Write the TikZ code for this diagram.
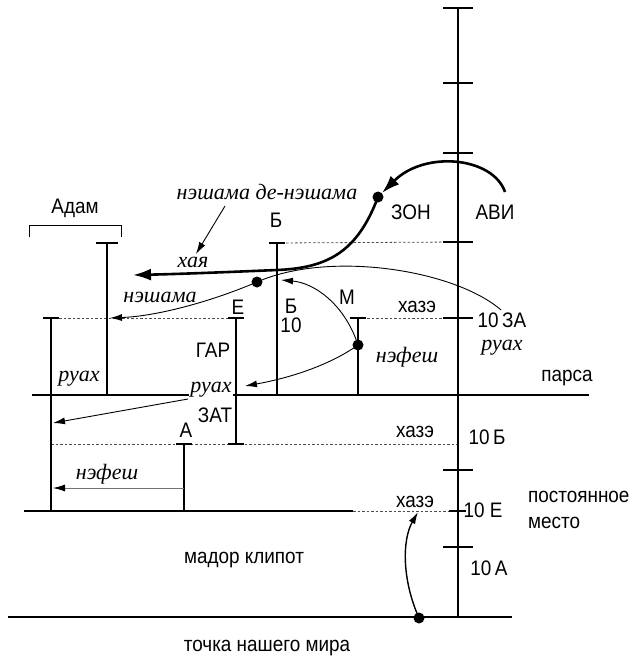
\documentclass[tikz,border=0pt]{standalone}
\usepackage{fontspec}
\setmainfont{Liberation Serif}
\newfontfamily\sansf[FakeStretch=0.9]{Liberation Sans}
\usetikzlibrary{arrows.meta}
\begin{document}
\begin{tikzpicture}[x=1pt,y=-1pt,
  bar/.style={line width=2.8pt},
  thinl/.style={line width=0.9pt},
  dashln/.style={line width=0.8pt, dash pattern=on 2.5pt off 2pt, black!70},
  lab/.style={font=\sansf\fontsize{21}{21}\selectfont, inner sep=0pt},
  ital/.style={font=\itshape\fontsize{22}{22}\selectfont, inner sep=0pt},
  dotn/.style={circle, fill, inner sep=0pt, minimum size=11pt},
  bigtip/.style={-{Latex[length=18pt,width=12pt]}},
  smtip/.style={-{Latex[length=12pt,width=7pt]}}]
\useasboundingbox (0,0) rectangle (631,661);

% ---------- coordinates ----------
\coordinate (axT) at (458,8);
\coordinate (axB) at (458,617);
\coordinate (parsaL) at (32,395);
\coordinate (parsaR) at (589,395);
\coordinate (lowL) at (24,511);
\coordinate (lowM) at (353,511);
\coordinate (lowR) at (458,511);
\coordinate (botL) at (8,617);
\coordinate (botR) at (512,617);

\coordinate (v1T) at (51,318);   \coordinate (v1B) at (51,511);
\coordinate (adT) at (107,243);  \coordinate (adB) at (107,395);
\coordinate (eT) at (236,318);   \coordinate (eB) at (236,444);
\coordinate (aT) at (184,444);   \coordinate (aB) at (184,511);
\coordinate (bT) at (277,243);   \coordinate (bB) at (277,395);
\coordinate (mT) at (358,318);   \coordinate (mB) at (358,395);

% ---------- dashed lines ----------
\draw[dashln] (59,318) -- (eT);
\draw[dashln] (mT) -- (458,318);
\draw[dashln] (bT) -- (458,242);
\draw[dashln] (51,444) -- (458,444);
\draw[dashln] (lowM) -- (lowR);

% ---------- Adam bracket ----------
\draw[thinl] (29,237) -- (29,225) -- (121,225) -- (121,237);

% ---------- axis ----------
\draw[bar] (axT) -- (axB);
\foreach \yy in {8,83,153,242,318,470,547}
  \draw[bar] (443,\yy) -- (473,\yy);
\draw[bar] (449,511) -- (466,511);

% ---------- horizontal lines ----------
\draw[bar] (parsaL) -- (parsaR);
\draw[bar] (lowL) -- (lowM);
\draw[bar] (botL) -- (botR);

% ---------- verticals with ticks ----------
\draw[bar] (v1T) -- (v1B);
\draw[bar] ([xshift=-8pt]v1T) -- ([xshift=8pt]v1T);
\draw[bar] ([xshift=-8pt]v1B) -- ([xshift=8pt]v1B);
\draw[bar] (adT) -- (adB);
\draw[bar] ([xshift=-11pt]adT) -- ([xshift=11pt]adT);
\draw[bar] ([xshift=-8pt]adB) -- ([xshift=8pt]adB);
\draw[bar] (eT) -- (eB);
\draw[bar] ([xshift=-8pt]eT) -- ([xshift=8pt]eT);
\draw[bar] ([xshift=-8pt]eB) -- ([xshift=8pt]eB);
\draw[bar] (aT) -- (aB);
\draw[bar] ([xshift=-8pt]aT) -- ([xshift=8pt]aT);
\draw[bar] ([xshift=-8pt]aB) -- ([xshift=8pt]aB);
\draw[bar] (bT) -- (bB);
\draw[bar] ([xshift=-8pt]bT) -- ([xshift=8pt]bT);
\draw[bar] ([xshift=-8pt]bB) -- ([xshift=8pt]bB);
\draw[bar] (mT) -- (mB);
\draw[bar] ([xshift=-8pt]mT) -- ([xshift=8pt]mT);
\draw[bar] ([xshift=-8pt]mB) -- ([xshift=8pt]mB);

% ---------- dots ----------
\node[dotn] (dot1) at (378,197) {};
\node[dotn] (dot2) at (257,282) {};
\node[dotn] (dot3) at (358,345) {};
\node[dotn] (dot4) at (419,618) {};

% ---------- arrow end points ----------
\coordinate (aviS) at (505,192);
\coordinate (xayaTip) at (133,275);
\coordinate (ruahS) at (501,310);
\coordinate (neshTip) at (110,318);
\coordinate (mUpTip) at (281,280);
\coordinate (mDnTip) at (245,386);
\coordinate (ruahMidS) at (188,399);
\coordinate (ruahTip) at (53,423);
\coordinate (nefS) at (184,488);
\coordinate (nefTip) at (53,488);
\coordinate (ndnS) at (225,206);
\coordinate (ndnTip) at (196,254);
\coordinate (hazeTip) at (418,512);

% ---------- thin curves ----------
\draw[thinl] (ruahS) .. controls (455,270) and (330,250) .. (dot2.center);
\draw[thinl, smtip] (dot2.center) .. controls (215,300) and (160,316) .. (neshTip);
\draw[thinl, smtip] (dot3.center) .. controls (345,305) and (315,283) .. (mUpTip);
\draw[thinl, smtip] (dot3.center) .. controls (330,365) and (290,378) .. (mDnTip);
\draw[thinl, smtip] (ruahMidS) -- (ruahTip);
\draw[thinl, black!55, -{Latex[length=12pt,width=7pt,color=black]}] (nefS) -- (nefTip);
\draw[thinl, smtip] (ndnS) -- (ndnTip);
\draw[line width=1.4pt, smtip] (dot4.center) .. controls (402,580) and (402,540) .. (hazeTip);

% ---------- thick curves ----------
\draw[line width=2.6pt, bigtip] (aviS) .. controls (493,157) and (425,150) .. (dot1);
\draw[line width=2.6pt, bigtip] (dot1.center) .. controls (358,250) and (330,268) .. (277,270)
   .. controls (230,272) and (180,274) .. (xayaTip);

% ---------- labels ----------
\node[lab] (tAdam) at (75,208) {Адам};
\node[ital] (tNdn) at (267,192) {нэшама де-нэшама};
\node[ital] (tXaya) at (193,262) {хая};
\node[lab] (tB) at (276,220) {Б};
\node[lab] (tZon) at (411,212) {ЗОН};
\node[lab] (tAvi) at (495,212) {АВИ};
\node[ital] (tNesh) at (160,297) {нэшама};
\node[lab] (tE) at (238,307) {Е};
\node[lab, align=center, font=\sansf\fontsize{21}{19}\selectfont] (tB10) at (291,316) {Б\\10};
\node[lab] (tM) at (347,297) {М};
\node[lab] (tHaze1) at (417,307) {хазэ};
\node[inner sep=0pt, align=center, font=\fontsize{21}{23}\selectfont] (t10za) at (502,334)
   {{\sansf 10\,ЗА}\\{\itshape\fontsize{22}{22}\selectfont руах}};
\node[ital] (tNefM) at (407,357) {нэфеш};
\node[lab] (tGar) at (213,350) {ГАР};
\node[ital] (tRuahL) at (79,379) {руах};
\node[ital, fill=white, inner sep=1pt] (tRuahM) at (211,390) {руах};
\node[lab] (tParsa) at (567,378) {парса};
\node[lab] (tZat) at (215,415) {ЗАТ};
\node[lab] (tA) at (186,430) {А};
\node[lab] (tHaze2) at (415,432) {хазэ};
\node[lab] (t10b) at (487,437) {10\,Б};
\node[ital] (tNefL) at (107,474) {нэфеш};
\node[lab] (tHaze3) at (415,502) {хазэ};
\node[lab] (t10e) at (483,510) {10 Е};
\node[lab, anchor=west] (tPost) at (528,497) {постоянное};
\node[lab, anchor=west] (tMesto) at (528,523) {место};
\node[lab] (tMador) at (244,560) {мадор клипот};
\node[lab] (t10a) at (489,568) {10\,А};
\node[lab] (tTochka) at (267,648) {точка нашего мира};
\end{tikzpicture}
\end{document}
